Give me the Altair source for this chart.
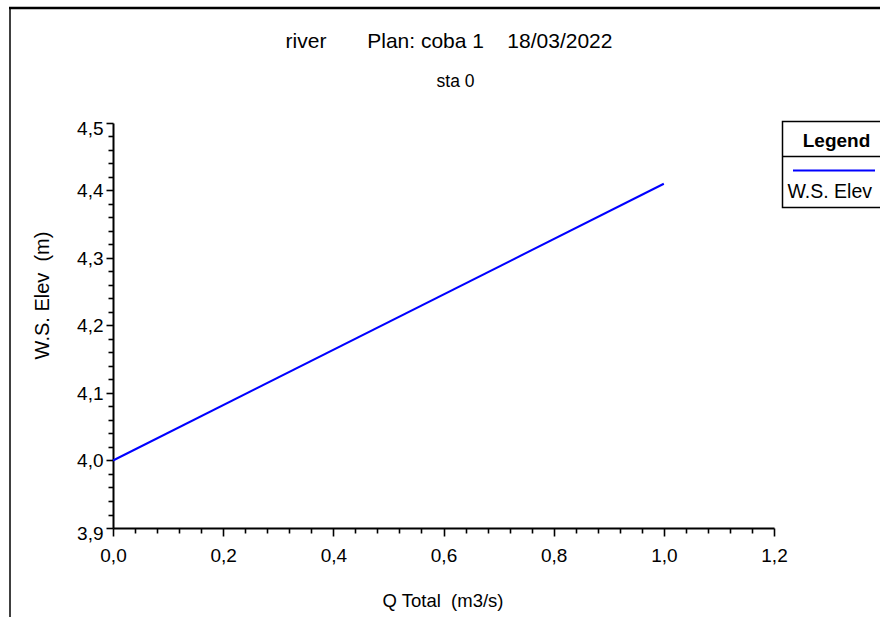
import altair as alt
import pandas as pd

# ---------------- data ----------------
TITLE_PARTS = ["river", "Plan: coba 1", "18/03/2022"]
SUBTITLE = "sta 0"
X_TITLE = "Q Total \u00a0(m3/s)"
Y_TITLE = "W.S. Elev \u00a0(m)"
LEGEND_TITLE = "Legend"
SERIES_NAME = "W.S. Elev"

q_total = [0.0, 1.0]
ws_elev = [4.00, 4.41]

X_DOMAIN = [0.0, 1.2]
Y_DOMAIN = [3.9, 4.5]
X_TICKS = [round(i * 0.04, 2) for i in range(31)]   # minor every 0.04, labels every 0.2
Y_TICKS = [round(3.9 + i * 0.02, 2) for i in range(31)]  # minor every 0.02, labels every 0.1

# ---------------- layout ----------------
W, H = 661, 405
PAD = {"left": 113, "top": 123, "right": 880 - 113 - W, "bottom": 617 - 123 - H}
FONT = "Liberation Sans, Arial, sans-serif"
SP = "\u00a0"

df = pd.DataFrame({"Q": q_total, "WS": ws_elev, "series": SERIES_NAME})
one = pd.DataFrame({"a": [0]})

x_major = "round(datum.value*100) % 20 == 0"
y_major = "round(datum.value*100) % 10 == 0"

x_axis = alt.Axis(
    values=X_TICKS,
    labelExpr=f"{x_major} ? replace(format(datum.value, '.1f'), '.', ',') : ''",
    tickSize={"condition": {"test": x_major, "value": 8}, "value": 5},
    labelPadding=10,
    labelFont=FONT, labelFontSize=19, labelColor="black",
    labelFlush=False, labelOverlap=False,
    domainColor="black", domainWidth=2, tickColor="black", tickWidth=1.6,
    grid=False,
    title=X_TITLE, titleFont=FONT, titleFontSize=18.5, titleFontWeight="normal",
    titleColor="black", titleBaseline="alphabetic", titleY=78, titleX=W / 2 - 1,
)
y_axis = alt.Axis(
    values=Y_TICKS,
    labelExpr=f"{y_major} ? replace(format(datum.value, '.1f'), '.', ',') : ''",
    tickSize={"condition": {"test": y_major, "value": 7}, "value": 5},
    labelOffset={"condition": {"test": "datum.value > 4.45 || datum.value < 3.95", "value": 5}, "value": 0},
    labelPadding=3,
    labelFont=FONT, labelFontSize=19, labelColor="black",
    labelFlush=False, labelOverlap=False,
    domainColor="black", domainWidth=2, tickColor="black", tickWidth=1.6,
    grid=False,
    title=Y_TITLE, titleFont=FONT, titleFontSize=20, titleFontWeight="normal",
    titleColor="black", titleBaseline="alphabetic", titleAngle=-90,
    titleX=-65, titleY=172,
)

line = alt.Chart(df).mark_line(color="#0000ff", strokeWidth=2).encode(
    x=alt.X("Q:Q", scale=alt.Scale(domain=X_DOMAIN, nice=False, zero=False), axis=x_axis),
    y=alt.Y("WS:Q", scale=alt.Scale(domain=Y_DOMAIN, nice=False, zero=False), axis=y_axis),
)

# outer frame (left and top edges of the window)
frame_left = alt.Chart(one).mark_rule(color="black", strokeWidth=1.5).encode(
    x=alt.value(-103), y=alt.value(-116), y2=alt.value(H + 100)
)
frame_top = alt.Chart(one).mark_rule(color="black", strokeWidth=2.5).encode(
    x=alt.value(-104), x2=alt.value(W + 120), y=alt.value(-115)
)

# titles
title_text = (SP * 7).join(TITLE_PARTS[:2]) + SP * 4 + TITLE_PARTS[2]
title = alt.Chart(pd.DataFrame({"t": [title_text]})).mark_text(
    font=FONT, fontSize=21, color="black", align="center", baseline="alphabetic"
).encode(text="t:N", x=alt.value(336), y=alt.value(-75))
subtitle = alt.Chart(pd.DataFrame({"t": [SUBTITLE]})).mark_text(
    font=FONT, fontSize=17.5, color="black", align="center", baseline="alphabetic"
).encode(text="t:N", x=alt.value(342.5), y=alt.value(-36))

# legend box
LX0, LX1 = 669.5, W + 130
leg_box = alt.Chart(one).mark_rect(fill="white", stroke="black", strokeWidth=1.5).encode(
    x=alt.value(LX0), x2=alt.value(LX1), y=alt.value(-1.5), y2=alt.value(84.5)
)
leg_sep = alt.Chart(one).mark_rule(color="black", strokeWidth=1.5).encode(
    x=alt.value(LX0), x2=alt.value(LX1), y=alt.value(33.5)
)
leg_line = alt.Chart(df.head(1)).mark_rule(color="#0000ff", strokeWidth=2).encode(
    x=alt.value(680), x2=alt.value(762), y=alt.value(47.5)
)
leg_title = alt.Chart(pd.DataFrame({"t": [LEGEND_TITLE]})).mark_text(
    font=FONT, fontSize=19, fontWeight="bold", color="black", align="center", baseline="alphabetic"
).encode(text="t:N", x=alt.value(723.5), y=alt.value(23.5))
leg_label = alt.Chart(pd.DataFrame({"t": [SERIES_NAME]})).mark_text(
    font=FONT, fontSize=19.5, color="black", align="left", baseline="alphabetic"
).encode(text="t:N", x=alt.value(674.5), y=alt.value(75))

chart = alt.layer(
    frame_left, frame_top, line, title, subtitle,
    leg_box, leg_sep, leg_line, leg_title, leg_label,
).properties(
    width=W, height=H,
    autosize=alt.AutoSizeParams(type="none"),
    padding=PAD,
    background="white",
).configure_view(stroke=None)

chart.save("out.html", embed_options={"renderer": "svg", "actions": False})
